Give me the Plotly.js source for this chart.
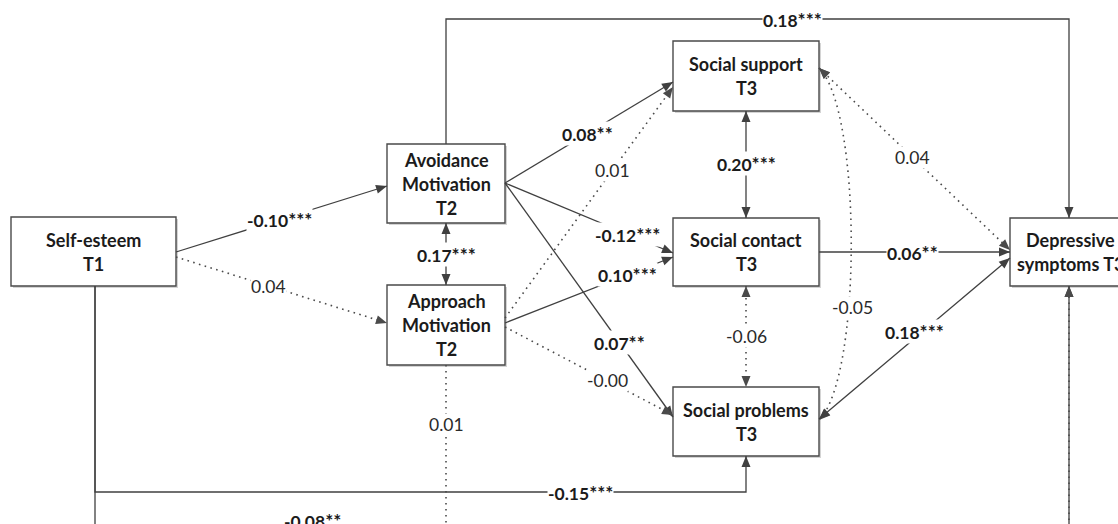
<!DOCTYPE html>
<html><head><meta charset="utf-8">
<script src="https://cdn.plot.ly/plotly-3.0.1.min.js"></script>
<style>html,body{margin:0;padding:0;background:#fff}</style>
</head><body><div id="chart" style="width:1118px;height:524px"></div>
<script>
// ---- DATA ----
const nodeIds    = ['SE','AV','AP','SS','SC','SP','DS'];
const nodeLabels = ['Self-esteem\nT1','Avoidance\nMotivation\nT2','Approach\nMotivation\nT2',
                    'Social support\nT3','Social contact\nT3','Social problems\nT3','Depressive\nsymptoms T3'];
const pathFrom  = ['SE','SE','AV','AV','AP','AV','AP','AV','AP','SS','SC','SS','SS','SC','SP','AV','SE','SE','AP'];
const pathTo    = ['AV','AP','AP','SS','SS','SC','SC','SP','SP','SC','SP','SP','DS','DS','DS','DS','SP','DS','DS'];
const pathType  = ['reg','reg','cov','reg','reg','reg','reg','reg','reg','cov','cov','cov','cov','reg','cov','reg','reg','reg','reg'];
const pathCoef  = ['-0.10','0.04','0.17','0.08','0.01','-0.12','0.10','0.07','-0.00','0.20','-0.06','-0.05','0.04','0.06','0.18','0.18','-0.15','-0.08','0.01'];
const pathStars = ['***','','***','**','','***','***','**','','***','','','','**','***','***','***','**',''];

// ---- GEOMETRY / STYLE (layout only) ----
const BOX = {SE:[11,176,217,286], AV:[387,505,144,223], AP:[387,505,285,365],
             SS:[673,819,41,111], SC:[673,819,218,286], SP:[673,819,387,456], DS:[1010,1130,218,286]};
const EDGE = [
  {a:['r',252], b:['l',186], t:0.49},
  {a:['r',257], b:['l',323], t:0.44},
  {a:['b'], b:['t'], t:0.5},
  {a:['r',183], b:['l',82], t:0.49},
  {a:['r',318], b:['l',87], t:0.64},
  {a:['r',183], b:['l',253], t:0.73},
  {a:['r',323], b:['l',257], t:0.73},
  {a:['r',183], b:['l',417], t:0.68},
  {a:['r',327], b:['l',415], t:0.61},
  {a:['b',746], b:['t',746], t:0.49},
  {a:['b',746], b:['t',746], t:0.5},
  {a:['r',68], b:['r',420], curve:[862,110,862,378], lab:[852,307]},
  {a:['r',68], b:['l',250], t:0.49},
  {a:['r',252], b:['l',252], t:0.49},
  {a:['r',419], b:['l',258], t:0.5, dy:-7},
  {a:['t',446], b:['t',1069], via:[[446,19],[1069,19]], lab:[792,19]},
  {a:['b',95], b:['b',746], via:[[95,492],[746,492]], lab:[580,492]},
  {a:['b',95], b:['b',1069], via:[[95,531],[1069,531]], lab:[312,520]},
  {a:['b',446], b:['b',1069], via:[[446,560],[1069,560]], lab:[446,424]}
];
const FONT = 'Lato, "Open Sans", "DejaVu Sans", sans-serif';
const LINE_SOLID = '#404040', LINE_DOT = '#4a4a4a', TXT = '#1b1b1b';

function anchor(id, spec){
  const [x0,x1,y0,y1] = BOX[id];
  const s = spec[0], v = spec[1];
  if (s==='l') return [x0, v===undefined?(y0+y1)/2:v];
  if (s==='r') return [x1, v===undefined?(y0+y1)/2:v];
  if (s==='t') return [v===undefined?(x0+x1)/2:v, y0];
  return [v===undefined?(x0+x1)/2:v, y1];
}
function head(tip, from, color){
  let dx = tip[0]-from[0], dy = tip[1]-from[1];
  const L = Math.hypot(dx,dy); dx/=L; dy/=L;
  const len = 11, w = 4.5;
  const bx = tip[0]-dx*len, by = tip[1]-dy*len;
  const p1 = [bx - dy*w, by + dx*w], p2 = [bx + dy*w, by - dx*w];
  return {type:'path', xref:'x', yref:'y',
    path:`M ${tip[0]} ${tip[1]} L ${p1[0]} ${p1[1]} L ${p2[0]} ${p2[1]} Z`,
    fillcolor:color, line:{width:0}};
}

const shapes = [], annotations = [];

// boxes
nodeIds.forEach((id,i)=>{
  const [x0,x1,y0,y1] = BOX[id];
  shapes.push({type:'rect', xref:'x', yref:'y', x0:x0+2, x1:x1+2, y0:y0+2, y1:y1+2,
               fillcolor:'#d4d4d4', line:{width:0}});
  shapes.push({type:'rect', xref:'x', yref:'y', x0, x1, y0, y1,
               fillcolor:'#ffffff', line:{color:'#4a4a4a', width:1.4}});
  const lines = nodeLabels[i].split('\n');
  const cx = (x0+x1)/2, cy = (y0+y1)/2, gap = 24;
  lines.forEach((t,k)=>{
    annotations.push({x:cx, y:cy + (k-(lines.length-1)/2)*gap, xref:'x', yref:'y',
      text:'<b>'+t+'</b>', showarrow:false, font:{family:FONT, size:18, color:TXT},
      xanchor:'center', yanchor:'middle'});
  });
});

// paths
pathFrom.forEach((f,i)=>{
  const g = EDGE[i], to = pathTo[i];
  const sig = pathStars[i] !== '';
  const color = sig ? LINE_SOLID : LINE_DOT;
  const line = sig ? {color, width:1.3} : {color, width:1.6, dash:'1.6px,4.4px'};
  const A = anchor(f, g.a), B = anchor(to, g.b);
  let lx, ly;
  if (g.curve){
    const c = g.curve;
    shapes.push({type:'path', xref:'x', yref:'y',
      path:`M ${A[0]} ${A[1]} C ${c[0]} ${c[1]} ${c[2]} ${c[3]} ${B[0]} ${B[1]}`, line});
    shapes.push(head(A,[c[0],c[1]],color));
    shapes.push(head(B,[c[2],c[3]],color));
    [lx,ly] = g.lab;
  } else {
    const pts = [A].concat(g.via||[]).concat([B]);
    let d = `M ${pts[0][0]} ${pts[0][1]}`;
    for (let k=1;k<pts.length;k++) d += ` L ${pts[k][0]} ${pts[k][1]}`;
    shapes.push({type:'path', xref:'x', yref:'y', path:d, line});
    shapes.push(head(B, pts[pts.length-2], color));
    if (pathType[i]==='cov') shapes.push(head(A, pts[1], color));
    if (g.lab){ [lx,ly] = g.lab; }
    else { lx = A[0]+(B[0]-A[0])*g.t; ly = A[1]+(B[1]-A[1])*g.t + (g.dy||0); }
  }
  const stars = pathStars[i] ? '<span style="font-size:19px">'+pathStars[i]+'</span>' : '';
  annotations.push({x:lx, y:ly, xref:'x', yref:'y', showarrow:false,
    text: sig ? '<b>'+pathCoef[i]+stars+'</b>' : pathCoef[i],
    font:{family:FONT, size:17.5, color: sig ? TXT : '#2a2a2a'},
    bgcolor:'#ffffff', borderpad:0, xanchor:'center', yanchor:'middle'});
});

const layout = {
  width:1118, height:524, margin:{l:0,r:0,t:0,b:0},
  paper_bgcolor:'#ffffff', plot_bgcolor:'#ffffff',
  xaxis:{range:[0,1118], visible:false, fixedrange:true},
  yaxis:{range:[524,0], visible:false, fixedrange:true},
  shapes, annotations, showlegend:false
};
Plotly.newPlot('chart', [], layout, {staticPlot:true, displayModeBar:false});
</script></body></html>
